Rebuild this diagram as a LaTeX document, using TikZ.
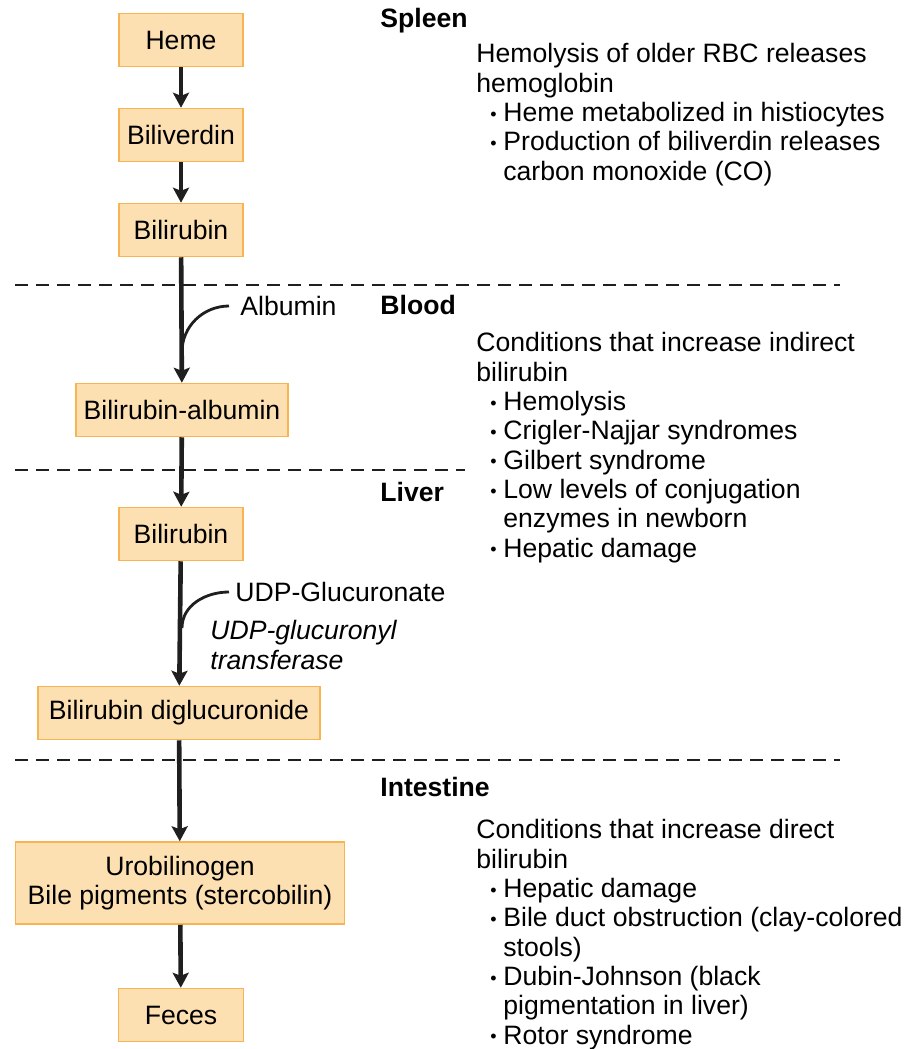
\documentclass[tikz,border=0pt]{standalone}
\usepackage{fontspec}
\setmainfont{Liberation Sans}
\usetikzlibrary{arrows.meta}
\definecolor{boxfill}{HTML}{FDE0B2}
\definecolor{boxline}{HTML}{F7B450}
\newcommand{\bul}{\makebox[6.5pt][l]{\raisebox{0.6pt}{\small\textbullet}}}
\newcommand{\txt}{\fontsize{13.3}{14.65}\selectfont}
\tikzset{
  box/.style={draw=boxline, fill=boxfill, line width=0.75pt, align=center, minimum height=26.5pt, inner sep=0pt, font=\txt},
  region/.style={anchor=base west, inner sep=0pt, font=\txt\bfseries},
  note/.style={anchor=base west, inner sep=0pt, align=left, font=\txt},
  lbl/.style={anchor=west, inner sep=4pt, font=\txt},
  flow/.style={-{Stealth[length=7.5pt, width=8pt, inset=1.5pt]}, line width=2.3pt, black!88},
  link/.style={line width=1.4pt, black!88},
  divider/.style={dash pattern=on 6.5pt off 4pt, line width=1.1pt, black!88},
}

\begin{document}
\begin{tikzpicture}[x=0.5pt, y=-0.5pt]
  \useasboundingbox (0,0) rectangle (919,1049);
  % pathway boxes
  \node[box, minimum width=62pt] (heme) at (181,40) {Heme};
  \node[box, minimum width=62pt] (bvd) at (181,135) {Biliverdin};
  \node[box, minimum width=62pt] (bil1) at (181,230) {Bilirubin};
  \node[box, minimum width=106pt] (bilalb) at (182,410) {Bilirubin-albumin};
  \node[box, minimum width=62pt] (bil2) at (181,534) {Bilirubin};
  \node[box, minimum width=141pt] (bdg) at (179,713) {Bilirubin diglucuronide};
  \node[box, minimum width=164.5pt, minimum height=41pt] (uro) at (180,883) {Urobilinogen\\Bile pigments (stercobilin)};
  \node[box, minimum width=62.5pt] (feces) at (181,1015) {Feces};
  % side inputs
  \node[lbl, inner sep=5.5pt] (alb) at (229,306) {Albumin};
  \node[lbl, inner sep=3pt] (udp) at (229,592) {UDP-Glucuronate};
  \node[note, font=\txt\itshape] (enz) at (210,669) {UDP-glucuronyl\\transferase};
  \coordinate (albjoin) at (182,352);
  \coordinate (udpjoin) at (182,628);
  % compartments
  \draw[divider] (15,285) -- (840,285);
  \draw[divider] (15,470) -- (465,470);
  \draw[divider] (15,760) -- (840,760);
  \node[region] (spleen) at (380,27) {Spleen};
  \node[region] (blood) at (380,314) {Blood};
  \node[region] (liver) at (380,501) {Liver};
  \node[region] (intest) at (380,796) {Intestine};
  % notes (base = last line)
  \node[note] (spnote) at (476,180) {Hemolysis of older RBC releases\\hemoglobin\\
    \hspace*{7pt}\bul Heme metabolized in histiocytes\\
    \hspace*{7pt}\bul Production of biliverdin releases\\
    \hspace*{13.5pt}carbon monoxide (CO)};
  \node[note] (indnote) at (476,557) {Conditions that increase indirect\\bilirubin\\
    \hspace*{7pt}\bul Hemolysis\\
    \hspace*{7pt}\bul Crigler-Najjar syndromes\\
    \hspace*{7pt}\bul Gilbert syndrome\\
    \hspace*{7pt}\bul Low levels of conjugation\\
    \hspace*{13.5pt}enzymes in newborn\\
    \hspace*{7pt}\bul Hepatic damage};
  \node[note] (dirnote) at (476,1044) {Conditions that increase direct\\bilirubin\\
    \hspace*{7pt}\bul Hepatic damage\\
    \hspace*{7pt}\bul Bile duct obstruction (clay-colored\\
    \hspace*{13.5pt}stools)\\
    \hspace*{7pt}\bul Dubin-Johnson (black\\
    \hspace*{13.5pt}pigmentation in liver)\\
    \hspace*{7pt}\bul Rotor syndrome};
  % arrows
  \draw[flow] (heme) -- (bvd);
  \draw[flow] (bvd) -- (bil1);
  \draw[flow] (bil1) -- (bilalb);
  \draw[flow] (bilalb) -- (bil2);
  \draw[flow] (bil2) -- (bdg);
  \draw[flow] (bdg) -- (uro);
  \draw[flow] (uro) -- (feces);
  \draw[link] (alb.west) to[out=180, in=90] (albjoin);
  \draw[link] (udp.west) to[out=180, in=90] (udpjoin);
\end{tikzpicture}
\end{document}
